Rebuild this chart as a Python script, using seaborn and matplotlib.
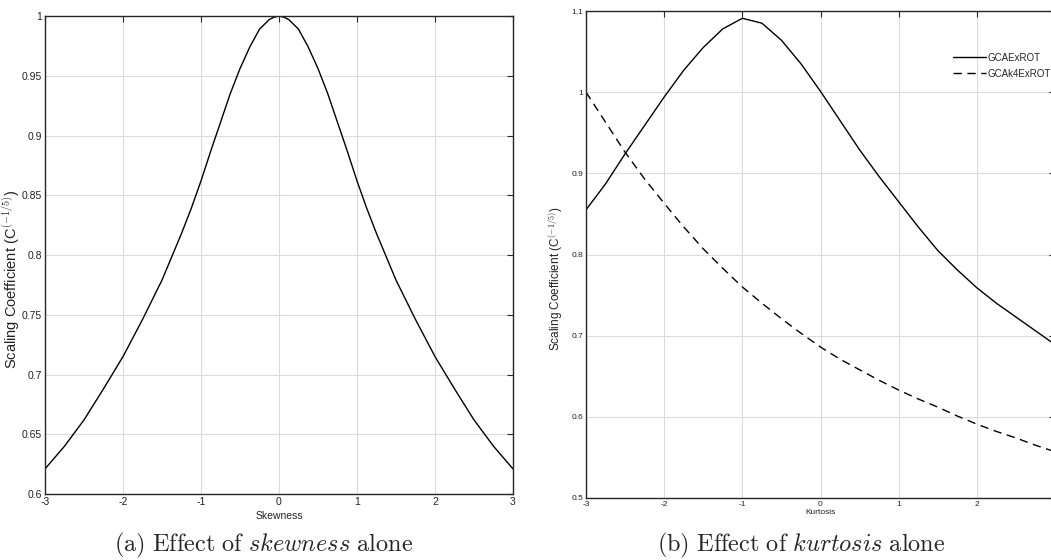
import numpy as np
import pandas as pd
import matplotlib
matplotlib.use("Agg")
import matplotlib.pyplot as plt
import seaborn as sns
from matplotlib.ticker import FuncFormatter

# Gegevens
skew_half_x = [0, 0.0625, 0.125, 0.25, 0.375, 0.5, 0.625, 0.75, 0.875, 1.0, 1.125, 1.25,
               1.5, 1.75, 2.0, 2.25, 2.5, 2.75, 3.0]
skew_half_y = [1.000, 0.999, 0.997, 0.989, 0.974, 0.956, 0.935, 0.911, 0.887, 0.862, 0.839, 0.818,
               0.779, 0.746, 0.715, 0.688, 0.662, 0.640, 0.621]
# symmetrische curve
skew_x = [-v for v in skew_half_x[:0:-1]] + skew_half_x
skew_y = skew_half_y[:0:-1] + skew_half_y

kurt_x = [-3, -2.75, -2.5, -2.25, -2, -1.75, -1.5, -1.25, -1, -0.75, -0.5, -0.25,
          0, 0.25, 0.5, 0.75, 1, 1.25, 1.5, 1.75, 2, 2.25, 2.5, 2.75, 3]
gcae_y = [0.855, 0.887, 0.924, 0.959, 0.994, 1.027, 1.055, 1.078, 1.091, 1.085, 1.064, 1.035,
          1.001, 0.965, 0.929, 0.896, 0.865, 0.834, 0.805, 0.781, 0.759, 0.740, 0.723, 0.706, 0.689]
gcak4_y = [1.000, 0.963, 0.926, 0.893, 0.863, 0.834, 0.807, 0.783, 0.760, 0.740, 0.721, 0.703,
           0.686, 0.671, 0.658, 0.645, 0.633, 0.622, 0.612, 0.601, 0.591, 0.582, 0.574, 0.565, 0.557]

series_names = ["GCAExROT", "GCAk4ExROT"]

df_skew = pd.DataFrame({"x": skew_x, "y": skew_y})
df_kurt = pd.concat([
    pd.DataFrame({"x": kurt_x, "y": gcae_y, "reeks": series_names[0]}),
    pd.DataFrame({"x": kurt_x, "y": gcak4_y, "reeks": series_names[1]}),
])

sns.set_theme(style="white")
plt.rcParams["font.family"] = ["Liberation Sans", "DejaVu Sans"]
plt.rcParams["mathtext.fontset"] = "cm"

fig = plt.figure(figsize=(10.51, 5.60), dpi=100)
W, H = 1051, 560
ax1 = fig.add_axes([45 / W, (H - 494) / H, (513 - 45) / W, (494 - 16) / H])
ax2 = fig.add_axes([586 / W, (H - 498) / H, (1055 - 586) / W, (498 - 11) / H])

fmt = FuncFormatter(lambda v, p: f"{v:g}")
# rechter as: label "3" valt buiten de figuur
fmt_kurt = FuncFormatter(lambda v, p: "" if v > 2.5 else f"{v:g}")


def style_axes(ax, fs):
    ax.grid(True, color="#dcdcdc", linewidth=0.8)
    ax.set_axisbelow(True)
    for s in ax.spines.values():
        s.set_color("#262626")
        s.set_linewidth(1.0)
    ax.tick_params(direction="in", length=4, width=0.8, colors="#262626",
                   top=True, right=True, labelsize=fs, pad=2,
                   labelcolor="#222222")
    ax.xaxis.set_major_formatter(fmt)
    ax.yaxis.set_major_formatter(fmt)


# (a) scheefheid
sns.lineplot(data=df_skew, x="x", y="y", color="black", linewidth=1.0, ax=ax1)
ax1.set_xlim(-3, 3)
ax1.set_ylim(0.6, 1.0)
ax1.set_xticks(np.arange(-3, 4, 1))
ax1.set_yticks(np.arange(0.6, 1.001, 0.05))
style_axes(ax1, 7.5)
ax1.set_xlabel("Skewness", fontsize=7.5, labelpad=3, color="#222222")
ax1.set_ylabel(r"Scaling Coefficient (C$^{(-1/5)}$)", fontsize=10.5, color="#222222")
ax1.yaxis.set_label_coords(-(45 - 22) / 468, 0.45)

# (b) kurtosis
sns.lineplot(data=df_kurt, x="x", y="y", style="reeks",
             dashes={series_names[0]: "", series_names[1]: (6, 4)},
             color="black", linewidth=1.0, ax=ax2)
ax2.set_xlim(-3, 3)
ax2.set_ylim(0.5, 1.1)
ax2.set_xticks(np.arange(-3, 4, 1))
ax2.set_yticks(np.arange(0.5, 1.101, 0.1))
style_axes(ax2, 6)
ax2.xaxis.set_major_formatter(fmt_kurt)
ax2.set_xlabel("Kurtosis", fontsize=6, labelpad=1, color="#222222")
ax2.set_ylabel(r"Scaling Coefficient (C$^{(-1/5)}$)", fontsize=8.5, color="#222222")
ax2.yaxis.set_label_coords(-(586 - 566) / 469, 0.45)
ax2.legend(frameon=False, fontsize=7, handlelength=3.4, loc="upper left",
           bbox_to_anchor=(949 / W, 1 - 49 / H), bbox_transform=fig.transFigure,
           borderaxespad=0, labelspacing=0.6, handletextpad=0.2)

# onderschriften
fig.text(264 / W, 1 - 545 / H,
         r"$\mathrm{(a)\ Effect\ of\ }\mathit{skewness}\mathrm{\ alone}$",
         ha="center", va="center", fontsize=17.5)
fig.text(801 / W, 1 - 545 / H,
         r"$\mathrm{(b)\ Effect\ of\ }\mathit{kurtosis}\mathrm{\ alone}$",
         ha="center", va="center", fontsize=17.5)

fig.savefig("out.png", dpi=100)
